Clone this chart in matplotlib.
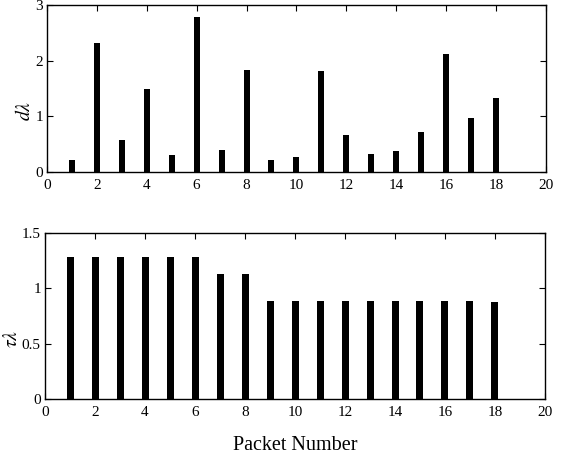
import numpy as np
import matplotlib
matplotlib.use('Agg')
import matplotlib.pyplot as plt

plt.rcParams['font.family'] = ['Liberation Serif', 'DejaVu Serif']
plt.rcParams['mathtext.fontset'] = 'stix'

packets = np.arange(1, 19)
d_lambda = [0.22, 2.31, 0.57, 1.49, 0.30, 2.79, 0.40, 1.84, 0.21, 0.26,
            1.82, 0.66, 0.32, 0.38, 0.71, 2.12, 0.97, 1.33]
tau_lambda = [1.28, 1.28, 1.28, 1.28, 1.28, 1.28, 1.13, 1.13, 0.89, 0.89,
              0.89, 0.89, 0.89, 0.89, 0.89, 0.89, 0.89, 0.88]

fig = plt.figure(figsize=(5.63, 4.57), dpi=100)
ax1 = fig.add_axes([0.0835, 0.624, 0.886, 0.365])
ax2 = fig.add_axes([0.080, 0.127, 0.888, 0.363])

def style(ax):
    ax.tick_params(direction='in', top=True, right=True, length=4,
                   labelsize=11, pad=3)
    ax.tick_params(axis='x', pad=5)
    for s in ax.spines.values():
        s.set_linewidth(1.0)
    ax.set_xlim(0, 20)
    ax.set_xticks(range(0, 21, 2))

ax1.bar(packets, d_lambda, width=0.24, color='black')
style(ax1)
ax1.set_ylim(0, 3)
ax1.set_yticks([0, 1, 2, 3])
ax1.set_ylabel(r'$d\lambda$', fontsize=14)
ax1.yaxis.set_label_coords(-0.026, 0.365)

ax2.bar(packets, tau_lambda, width=0.28, color='black')
style(ax2)
ax2.set_ylim(0, 1.5)
ax2.set_yticks([0, 0.5, 1, 1.5])
ax2.set_yticklabels(['0', '0.5', '1', '1.5'])
ax2.set_ylabel(r'$\tau\lambda$', fontsize=14)
ax2.yaxis.set_label_coords(-0.048, 0.36)
ax2.set_xlabel('Packet Number', fontsize=14.5, labelpad=12)

fig.savefig('out.png', dpi=100)
